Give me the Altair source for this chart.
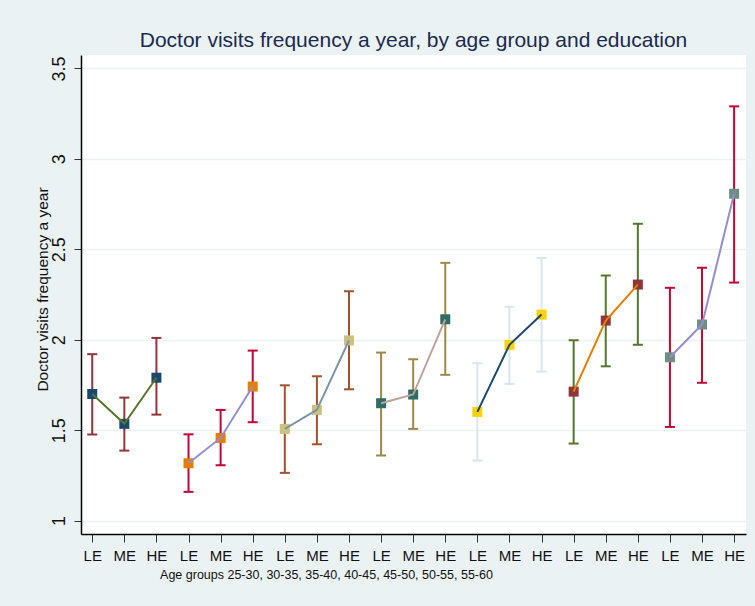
import altair as alt
import pandas as pd

# Mean doctor visits a year with 95% confidence limits,
# by age group (7 groups) and education level (LE / ME / HE)
age_groups = ["25-30", "30-35", "35-40", "40-45", "45-50", "50-55", "55-60"]
edu_labels = ["LE", "ME", "HE"]

means = [1.700, 1.535, 1.790, 1.317, 1.457, 1.741, 1.507, 1.612, 1.996, 1.649, 1.697,
         2.113, 1.601, 1.972, 2.139, 1.713, 2.106, 2.305, 1.903, 2.084, 2.807]
ci_low = [1.476, 1.387, 1.586, 1.159, 1.306, 1.544, 1.264, 1.422, 1.726, 1.360, 1.507,
          1.806, 1.332, 1.756, 1.824, 1.426, 1.853, 1.972, 1.518, 1.762, 2.316]
ci_high = [1.920, 1.680, 2.010, 1.477, 1.612, 1.940, 1.748, 1.798, 2.268, 1.929, 1.892,
           2.425, 1.870, 2.182, 2.451, 1.997, 2.355, 2.641, 2.287, 2.398, 3.290]

# Stata s2color-style palette, one set of colours per age group
marker_colors = ["#1a476f", "#e37e00", "#cac27e", "#2d6d66", "#ffd200", "#90353b", "#6e8e84"]
line_colors = ["#55752f", "#938dd2", "#7b92a8", "#bfa19c", "#1a476f", "#e37e00", "#938dd2"]
ci_colors = ["#90353b", "#c10534", "#a0522d", "#9c8847", "#d9e6eb", "#55752f", "#c10534"]

rows = []
for g, age in enumerate(age_groups):
    for e, edu in enumerate(edu_labels):
        i = g * 3 + e
        rows.append({"pos": i + 1, "age": age, "edu": edu,
                     "mean": means[i], "lo": ci_low[i], "hi": ci_high[i]})
df = pd.DataFrame(rows)

SANS = "Liberation Sans, Arial, sans-serif"

label_expr = "[" + ",".join(f"'{s}'" for s in edu_labels) + "][(datum.value - 1) % 3]"

y_domain = [0.926, 3.574]
x_scale = alt.Scale(domain=[0.65, 21.37], nice=False, zero=False)
y_scale = alt.Scale(domain=y_domain, nice=False, zero=False)

x_axis = alt.Axis(
    values=list(range(1, 22)),
    labelExpr=label_expr,
    labelOverlap=False, labelFlush=False,
    grid=False,
    domainColor="#000000", domainWidth=1.5,
    tickColor="#333333", tickSize=8, tickWidth=1,
    labelFont=SANS, labelFontSize=15, labelColor="#111111",
    labelPadding=6, labelAngle=0,
    title="Age groups " + ", ".join(age_groups),
    titleFont=SANS, titleFontSize=12.5, titleFontWeight="normal", titleColor="#111111",
    titleX=245, titleY=44, titleAlign="center", titleBaseline="alphabetic",
)

y_axis = alt.Axis(
    values=[1, 1.5, 2, 2.5, 3, 3.5],
    format="~g",
    grid=True, gridColor="#eaf2f3", gridWidth=1.5,
    domainColor="#000000", domainWidth=1.5,
    tickColor="#333333", tickSize=7, tickWidth=1,
    labelFont=SANS, labelFontSize=18, labelColor="#111111",
    labelAngle=270, labelAlign="center", labelBaseline="alphabetic",
    labelPadding=10, labelOverlap=False,
    title="Doctor visits frequency a year",
    titleFont=SANS, titleFontSize=15.5, titleFontWeight="normal", titleColor="#111111",
    titleAngle=270, titleX=-34, titleY=234, titleAlign="center",
    titleBaseline="alphabetic",
)

x_enc = alt.X("pos:Q", scale=x_scale, axis=x_axis)

base = alt.Chart(df)

ci_scale = alt.Scale(domain=age_groups, range=ci_colors)

ci_rules = base.mark_rule(strokeWidth=2).encode(
    x=x_enc,
    y=alt.Y("lo:Q", scale=y_scale, axis=y_axis),
    y2="hi:Q",
    color=alt.Color("age:N", scale=ci_scale, legend=None),
)

cap_low = base.mark_tick(orient="horizontal", size=10, thickness=2, opacity=1).encode(
    x=x_enc,
    y=alt.Y("lo:Q", scale=y_scale, axis=y_axis),
    color=alt.Color("age:N", scale=ci_scale, legend=None),
)
cap_high = base.mark_tick(orient="horizontal", size=10, thickness=2, opacity=1).encode(
    x=x_enc,
    y=alt.Y("hi:Q", scale=y_scale, axis=y_axis),
    color=alt.Color("age:N", scale=ci_scale, legend=None),
)

points = base.mark_square(size=100, opacity=1, filled=True).encode(
    x=x_enc,
    y=alt.Y("mean:Q", scale=y_scale, axis=y_axis),
    color=alt.Color("age:N", scale=alt.Scale(domain=age_groups, range=marker_colors),
                    legend=None),
)

lines = base.mark_line(strokeWidth=2).encode(
    x=x_enc,
    y=alt.Y("mean:Q", scale=y_scale, axis=y_axis),
    color=alt.Color("age:N", scale=alt.Scale(domain=age_groups, range=line_colors),
                    legend=None),
    order="pos:Q",
)

chart = (
    alt.layer(ci_rules, cap_low, cap_high, points, lines)
    .resolve_scale(color="independent")
    .properties(
        width=665,
        height=479,
        autosize=alt.AutoSizeParams(type="none"),
        padding={"left": 81, "top": 55, "right": 9, "bottom": 72},
        background="#eaf2f3",
        title=alt.TitleParams(
            "Doctor visits frequency a year, by age group and education",
            font=SANS, fontSize=21, fontWeight="normal", color="#1c2a4e",
            anchor="middle", frame="group", baseline="alphabetic", offset=8, dy=21,
        ),
    )
    .configure_view(fill="#ffffff", stroke=None)
    .configure_axis(labelOverlap=False)
)

chart.save("out.html", embed_options={"renderer": "svg", "actions": False})
